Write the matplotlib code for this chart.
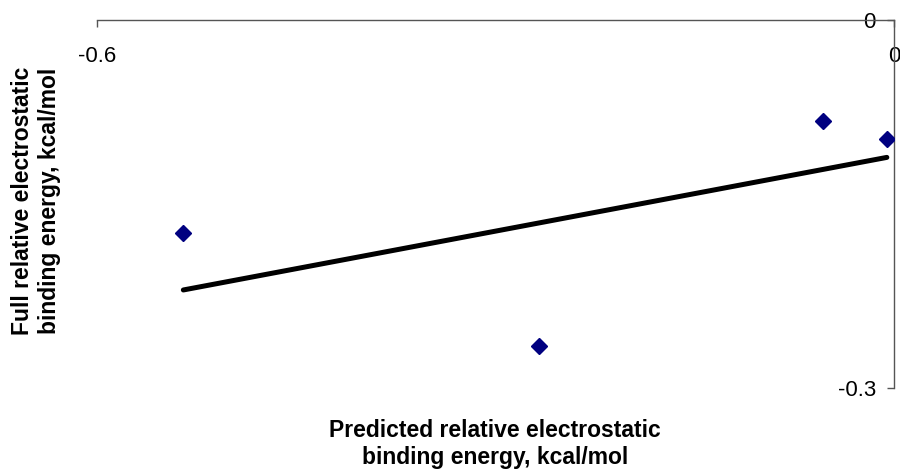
import numpy as np
import matplotlib.pyplot as plt

plt.rcParams['font.family'] = ['Liberation Sans', 'DejaVu Sans']

# values
predicted = [-0.535, -0.267, -0.0535, -0.0054]
full = [-0.174, -0.266, -0.082, -0.0973]
x_ticks = [-0.6, 0]
y_ticks = [-0.3, 0]
x_label = 'Predicted relative electrostatic\nbinding energy, kcal/mol'
y_label = 'Full relative electrostatic\nbinding energy, kcal/mol'

fig = plt.figure(figsize=(9, 4.76), dpi=100)
ax = fig.add_axes([97 / 900, 1 - 388 / 476, (894 - 97) / 900, (388 - 20) / 476])

ax.plot(predicted, full, linestyle='none', marker='D', markersize=8.5,
        color='#000080', zorder=3)

# linear trendline over the data range
slope, intercept = np.polyfit(predicted, full, 1)
xs = np.array([min(predicted), max(predicted)])
ax.plot(xs, slope * xs + intercept, color='black', linewidth=3.6,
        solid_capstyle='round', zorder=2)

ax.set_xlim(-0.6, 0)
ax.set_ylim(-0.3, 0)
ax.spines['bottom'].set_position(('data', 0))
ax.spines['left'].set_position(('data', 0))
ax.spines['top'].set_visible(False)
ax.spines['right'].set_visible(False)
for s in ('bottom', 'left'):
    ax.spines[s].set_color('#555555')
    ax.spines[s].set_linewidth(1.0)

ax.set_xticks(x_ticks)
ax.set_xticklabels(['-0.6', '0'])
ax.set_yticks(y_ticks)
ax.set_yticklabels(['-0.3', '0'])
ax.tick_params(axis='both', direction='out', length=5, width=1.0,
               color='#555555', labelsize=16)
ax.tick_params(axis='x', pad=14)
ax.tick_params(axis='y', pad=8)
ax.patch.set_visible(False)

fig.text(495 / 900, 1 - 444 / 476, x_label, ha='center', va='center',
         fontsize=16.5, fontweight='bold', linespacing=1.2)
fig.text(36 / 900, 1 - 201 / 476, y_label, ha='center', va='center',
         rotation=90, fontsize=16.5, fontweight='bold', linespacing=1.2)

fig.savefig('out.png', dpi=100)
